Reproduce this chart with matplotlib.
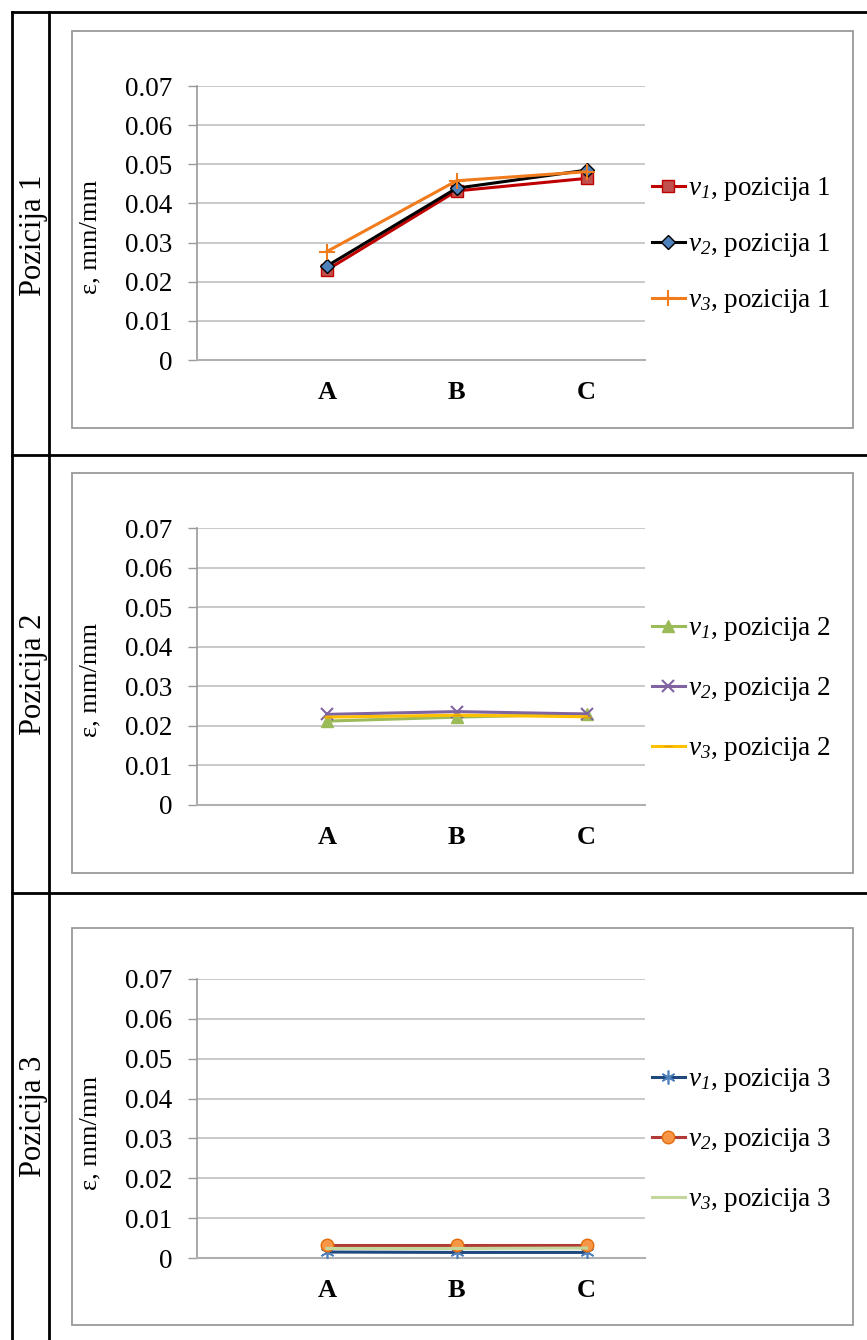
import matplotlib
matplotlib.use("Agg")
import matplotlib.pyplot as plt
from matplotlib.lines import Line2D
from matplotlib.patches import Rectangle
from matplotlib.ticker import FuncFormatter

# fonts (Times-like look)
plt.rcParams['font.family'] = ['Liberation Serif', 'DejaVu Serif']
plt.rcParams['mathtext.fontset'] = 'custom'
plt.rcParams['mathtext.rm'] = 'Liberation Serif:italic'
plt.rcParams['mathtext.it'] = 'Liberation Serif:italic'

# data
categories = ['A', 'B', 'C']
pos1_v1 = [0.0230, 0.0432, 0.0464]
pos1_v2 = [0.0240, 0.0439, 0.0485]
pos1_v3 = [0.0277, 0.0458, 0.0481]
pos2_v1 = [0.0212, 0.0222, 0.0230]
pos2_v2 = [0.0229, 0.0236, 0.0230]
pos2_v3 = [0.0222, 0.0227, 0.0223]
pos3_v1 = [0.0015, 0.0014, 0.0014]
pos3_v2 = [0.0032, 0.0032, 0.0032]
pos3_v3 = [0.0024, 0.0024, 0.0025]
yticks = [0, 0.01, 0.02, 0.03, 0.04, 0.05, 0.06, 0.07]
row_labels = ['Pozicija 1', 'Pozicija 2', 'Pozicija 3']

W, H = 867, 1340
fig = plt.figure(figsize=(W / 100, H / 100), dpi=100)


def fx(x):
    return x / W


def fy(y):
    return 1 - y / H


# table lines
tbl = dict(color='black', lw=2.0, transform=fig.transFigure)
fig.add_artist(Line2D([fx(12), fx(12)], [fy(12), fy(1340)], **tbl))
fig.add_artist(Line2D([fx(49), fx(49)], [fy(12), fy(1340)], **tbl))
for yy in [12, 455, 893]:
    fig.add_artist(Line2D([fx(12), fx(867)], [fy(yy), fy(yy)], **tbl))

# chart frames
frames = [(72, 31, 853, 428), (72, 473, 853, 873), (72, 928, 853, 1325)]
for x0, y0, x1, y1 in frames:
    fig.add_artist(Rectangle((fx(x0), fy(y1)), fx(x1 - x0), (y1 - y0) / H,
                             transform=fig.transFigure, fill=False,
                             edgecolor='#9a9a9a', lw=1.3))

# plot areas: (top px, bottom px)
areas = [(86, 360), (528, 805), (979, 1258)]
row_mid = [235, 674, 1116]

series = [
    [(pos1_v1, '#C00000', dict(marker='s', ms=9, mfc='#C0504D', mec='#C00000')),
     (pos1_v2, '#000000', dict(marker='D', ms=7, mfc='#4F81BD', mec='#000000', mew=1)),
     (pos1_v3, '#F07C1E', dict(marker='+', ms=12, mec='#F07C1E', mew=1.5))],
    [(pos2_v1, '#9BBB59', dict(marker='^', ms=9, mfc='#9BBB59', mec='#9BBB59')),
     (pos2_v2, '#8064A2', dict(marker='x', ms=9, mec='#8064A2', mew=1.5)),
     (pos2_v3, '#FFC000', dict(marker='_', ms=6, mec='#E0A000'))],
    [(pos3_v1, '#1F497D', dict(marker=(6, 2, 0), ms=10, mec='#4F81BD', mew=1.2)),
     (pos3_v2, '#B23A36', dict(marker='o', ms=9, mfc='#F79646', mec='#E36C09')),
     (pos3_v3, '#C3D69B', dict(marker='None'))],
]
legend_tops = [194, 634, 1085]
spacing = [55, 59, 59]

x = [1, 2, 3]
for i, (top, bot) in enumerate(areas):
    ax = fig.add_axes([fx(197), fy(bot), fx(448), (bot - top) / H])
    handles = []
    for j, (vals, col, mk) in enumerate(series[i]):
        h, = ax.plot(x, vals, color=col, lw=2.2, zorder=3 + j, **mk,
                     label=r'$v_{%d}$, pozicija %d' % (j + 1, i + 1))
        handles.append(h)
    ax.set_xlim(0, 3.45)
    ax.set_ylim(0, 0.07)
    ax.set_yticks(yticks)
    ax.yaxis.set_major_formatter(FuncFormatter(lambda v, p: '0' if v == 0 else '%.2f' % v))
    ax.set_xticks(x)
    ax.set_xticklabels(categories, fontweight='bold', fontsize=19)
    ax.tick_params(axis='x', length=0, pad=15)
    ax.tick_params(axis='y', length=6.5, color='#9a9a9a', labelsize=19.5, pad=11, width=1)
    ax.grid(axis='y', color='#c0c0c0', lw=1.2)
    ax.set_axisbelow(True)
    for s in ['top', 'right']:
        ax.spines[s].set_visible(False)
    ax.spines['left'].set_color('#9a9a9a')
    ax.spines['bottom'].set_color('#b0b0b0')
    ax.spines['left'].set_linewidth(1.2)
    ax.spines['bottom'].set_linewidth(1.5)
    ax.set_ylabel('ε, mm/mm', fontsize=19)
    ax.yaxis.set_label_coords((101 - 197) / 448, 0.45)

    lt = legend_tops[i]
    fig.legend(handles=handles, loc='upper left',
               bbox_to_anchor=(fx(652), fy(lt - 19)), frameon=False,
               fontsize=19.5, handlelength=1.2, handletextpad=0.12,
               labelspacing=(spacing[i] - 27) / 27, borderaxespad=0,
               borderpad=0)

    fig.text(fx(34), fy(row_mid[i]), row_labels[i], rotation=90,
             fontsize=22, ha='center', va='center')

fig.savefig('out.png', dpi=100)
